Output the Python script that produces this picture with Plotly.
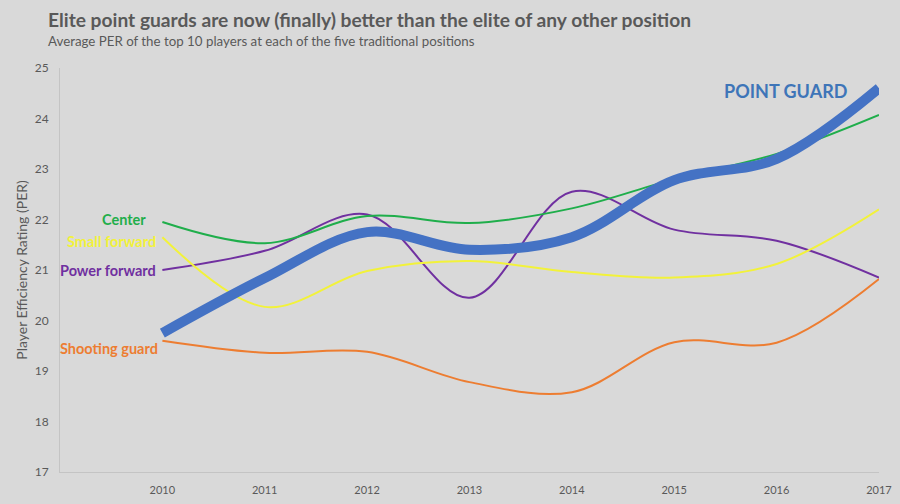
import plotly.graph_objects as go

years = [2010, 2011, 2012, 2013, 2014, 2015, 2016, 2017]
point_guard = [19.75, 20.84, 21.75, 21.4, 21.65, 22.78, 23.2, 24.6]
center = [21.95, 21.53, 22.07, 21.93, 22.22, 22.8, 23.3, 24.07]
small_forward = [21.65, 20.27, 20.98, 21.18, 20.96, 20.85, 21.12, 22.2]
power_forward = [21.0, 21.38, 22.1, 20.45, 22.55, 21.8, 21.58, 20.85]
shooting_guard = [19.6, 19.36, 19.38, 18.78, 18.58, 19.57, 19.56, 20.82]

y_ticks = [17, 18, 19, 20, 21, 22, 23, 24, 25]

FONT = "Lato"
BG = "#d9d9d9"
GREY = "#595959"

series = [
    ("Shooting guard", shooting_guard, "#ED7D31", -8, -2),
    ("Power forward", power_forward, "#7030A0", 0, -4),
    ("Small forward", small_forward, "#F2F23A", -4, -4),
    ("Center", center, "#1FAE4B", 3, -14),
]

fig = go.Figure()
for name, vals, color, ysh, xsh in series:
    fig.add_trace(go.Scatter(x=years, y=vals, mode="lines", name=name,
                             line=dict(color=color, width=2, shape="spline", smoothing=1.0)))
    fig.add_annotation(x=years[0], y=vals[0], text=f"<b>{name}</b>", showarrow=False,
                       xanchor="right", yanchor="middle", xshift=xsh, yshift=ysh,
                       font=dict(family=FONT, size=14.5, color=color))

fig.add_trace(go.Scatter(x=years, y=point_guard, mode="lines", name="Point guard",
                         line=dict(color="#4472C4", width=10, shape="spline", smoothing=1.0)))
fig.add_annotation(x=years[-1], y=point_guard[-1], text="<b>POINT GUARD</b>", showarrow=False,
                   xanchor="right", yanchor="middle", xshift=-30, yshift=-3,
                   font=dict(family=FONT, size=18, color="#3E75B8"))

fig.add_annotation(xref="paper", yref="paper", x=-0.017, y=1.121, xanchor="left", yanchor="middle",
                   text="<b>Elite point guards are now (finally) better than the elite of any other position</b>",
                   showarrow=False, font=dict(family=FONT, size=19.2, color=GREY))
fig.add_annotation(xref="paper", yref="paper", x=-0.017, y=1.067, xanchor="left", yanchor="middle",
                   text="Average PER of the top 10 players at each of the five traditional positions",
                   showarrow=False, font=dict(family=FONT, size=13.3, color=GREY))

fig.update_layout(
    width=900, height=504,
    margin=dict(l=60, r=21, t=68, b=32),
    paper_bgcolor=BG, plot_bgcolor=BG,
    showlegend=False,
    font=dict(family=FONT, color=GREY),
    xaxis=dict(range=[2009, 2017], tickvals=years, ticktext=[str(y) for y in years],
               showgrid=False, zeroline=False, showline=True, linecolor="#c4c4c4", linewidth=1,
               tickfont=dict(size=11, color=GREY), ticks="", ticklabelstandoff=8, automargin=False),
    yaxis=dict(range=[17, 25], tickvals=y_ticks, showgrid=False, zeroline=False,
               showline=True, linecolor="#c4c4c4", linewidth=1, automargin=False,
               tickfont=dict(size=12, color=GREY), ticks="", ticklabelstandoff=8,
               title=dict(text="Player Efficiency Rating (PER)", font=dict(size=14, color=GREY), standoff=3)),
)

fig.write_html("out.html", config={"displayModeBar": False},
               post_script="document.body.style.margin='0';document.body.style.background='#d9d9d9';")
